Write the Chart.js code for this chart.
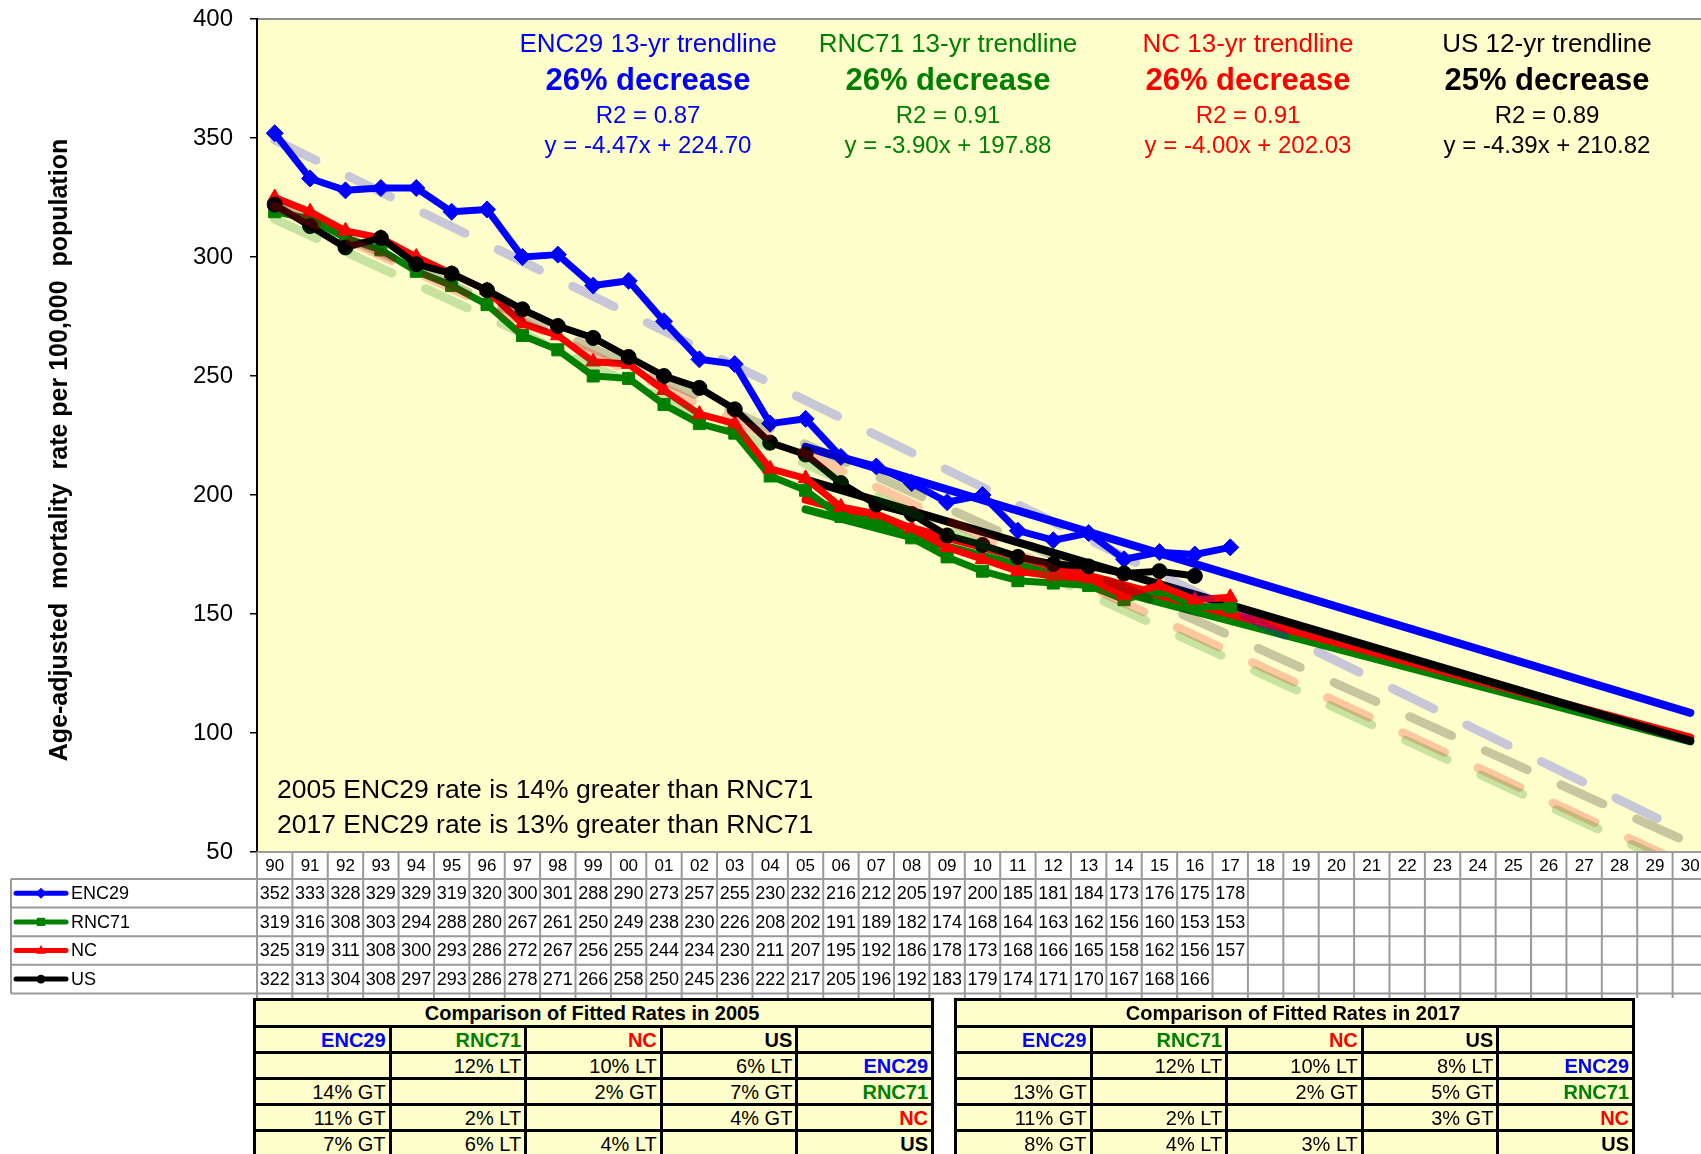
<!DOCTYPE html>
<html>
<head>
<meta charset="utf-8">
<script src="https://cdn.jsdelivr.net/npm/chart.js@4.4.1/dist/chart.umd.min.js"></script>
<style>
  html, body { margin: 0; padding: 0; background: #fff; overflow: hidden; }
  #wrap { position: relative; width: 1701px; height: 1154px; overflow: hidden; }
  #c { position: absolute; left: 0; top: 0; }
  table.cmp { position: absolute; top: 998px; border-collapse: collapse; background: #ffffcc;
    font-family: "Liberation Sans", Arial, sans-serif; font-size: 20px; table-layout: fixed; width: 678px; }
  table.cmp td { border: 3px solid #000; height: 23px; padding: 0 3px 0 0; text-align: right;
    line-height: 22px; white-space: nowrap; overflow: hidden; }
  table.cmp td.ttl { text-align: center; font-weight: bold; height: 24px; }
  table.cmp td.b { font-weight: bold; }
</style>
</head>
<body>
<div id="wrap">
  <canvas id="c" width="1710" height="1154"></canvas>
</div>
<script>
// Year columns (1990 through 2030 projection)
const years = ['90','91','92','93','94','95','96','97','98','99','00','01','02','03','04','05','06','07','08','09',
               '10','11','12','13','14','15','16','17','18','19','20','21','22','23','24','25','26','27','28','29','30'];

// Age-adjusted mortality rates per 100,000
const enc29 = [352,333,328,329,329,319,320,300,301,288,290,273,257,255,230,232,216,212,205,197,200,185,181,184,173,176,175,178];
const rnc71 = [319,316,308,303,294,288,280,267,261,250,249,238,230,226,208,202,191,189,182,174,168,164,163,162,156,160,153,153];
const nc    = [325,319,311,308,300,293,286,272,267,256,255,244,234,230,211,207,195,192,186,178,173,168,166,165,158,162,156,157];
const us    = [322,313,304,308,297,293,286,278,271,266,258,250,245,236,222,217,205,196,192,183,179,174,171,170,167,168,166];

const seriesNames  = ['ENC29', 'RNC71', 'NC', 'US'];
const seriesColors = ['#0000ff', '#008000', '#ff0000', '#000000'];
const seriesTints  = ['rgba(0,0,255,0.22)', 'rgba(0,128,0,0.22)', 'rgba(255,0,0,0.22)', 'rgba(0,0,0,0.22)'];
const markerStyles = ['rectRot', 'rect', 'triangle', 'circle'];

// Fitted trendlines since 2005 (x = 1 in 2005, x = 26 in 2030)
const fitYears     = [13, 13, 13, 12];
const fitDecrease  = [26, 26, 26, 25];
const fitR2        = [0.87, 0.91, 0.91, 0.89];
const fitSlope     = [-4.47, -3.90, -4.00, -4.39];
const fitIntercept = [224.70, 197.88, 202.03, 210.82];
const fitLabels    = ['05', '30'];
const fitX         = [1, 26];

// Whole-period linear trends, 1990 value and 2030 projection
const longTrendLabels = ['90', '30'];
const longTrendStart  = [349.2, 315.9, 321.4, 321.9];
const longTrendEnd    = [57.3, 41.8, 43.7, 53.7];

const notes = ['2005 ENC29 rate is 14% greater than RNC71', '2017 ENC29 rate is 13% greater than RNC71'];
const yTitle = 'Age-adjusted  mortality  rate per 100,000  population';

// Pairwise comparison of fitted rates (row series vs column series)
const cmpYears = [2005, 2017];
const cmp2005 = [
  ['', '12% LT', '10% LT', '6% LT'],
  ['14% GT', '', '2% GT', '7% GT'],
  ['11% GT', '2% LT', '', '4% GT'],
  ['7% GT', '6% LT', '4% LT', '']
];
const cmp2017 = [
  ['', '12% LT', '10% LT', '8% LT'],
  ['13% GT', '', '2% GT', '5% GT'],
  ['11% GT', '2% LT', '', '3% GT'],
  ['8% GT', '4% LT', '3% LT', '']
];

const FONT = '"Liberation Sans", Arial, sans-serif';

// ---- datasets ----
const datasets = [];
const actual = [enc29, rnc71, nc, us];
const markerRadius = [8.5, 8.5, 8.5, 7.5];
const actualOrder = [4, 3, 2, 1];
actual.forEach((vals, i) => {
  datasets.push({
    label: seriesNames[i], data: vals,
    borderColor: seriesColors[i], backgroundColor: seriesColors[i],
    borderWidth: 7, borderJoinStyle: 'round',
    pointStyle: markerStyles[i], pointRadius: markerRadius[i],
    pointBorderWidth: 1, pointBorderColor: seriesColors[i], pointBackgroundColor: seriesColors[i],
    order: actualOrder[i]
  });
});
const fitOrder = [8, 7, 6, 5];
fitSlope.forEach((m, i) => {
  datasets.push({
    label: seriesNames[i] + ' fit',
    data: fitLabels.map((lab, k) => ({ x: lab, y: m * fitX[k] + fitIntercept[i] })),
    borderColor: seriesColors[i], borderWidth: 8, borderCapStyle: 'round',
    pointRadius: 0, order: fitOrder[i]
  });
});
longTrendStart.forEach((v, i) => {
  datasets.push({
    label: seriesNames[i] + ' trend',
    data: [{ x: longTrendLabels[0], y: v }, { x: longTrendLabels[1], y: longTrendEnd[i] }],
    borderColor: seriesTints[i], borderWidth: 9, borderCapStyle: 'round',
    borderDash: [46, 37], pointRadius: 0, order: 0, clip: 0
  });
});

// ---- plugins ----
const plotBackground = {
  id: 'plotBackground',
  beforeDraw(chart) {
    const { ctx, chartArea: a } = chart;
    ctx.save();
    ctx.fillStyle = '#ffffcc';
    ctx.fillRect(a.left, a.top, a.right - a.left, a.bottom - a.top);
    ctx.strokeStyle = '#909090';
    ctx.lineWidth = 2;
    ctx.beginPath();
    ctx.moveTo(a.left, a.top);
    ctx.lineTo(a.right, a.top);
    ctx.stroke();
    ctx.restore();
  }
};

const axisTitle = {
  id: 'axisTitle',
  afterDraw(chart) {
    const ctx = chart.ctx;
    ctx.save();
    ctx.translate(60, 450);
    ctx.rotate(-Math.PI / 2);
    ctx.textAlign = 'center';
    ctx.textBaseline = 'middle';
    ctx.fillStyle = '#000';
    ctx.font = 'bold 25px ' + FONT;
    ctx.fillText(yTitle, 0, 0);
    ctx.restore();
  }
};

const trendText = {
  id: 'trendText',
  afterDatasetsDraw(chart) {
    const ctx = chart.ctx;
    const centers = [648, 948, 1248, 1547];
    ctx.save();
    ctx.textAlign = 'center';
    ctx.textBaseline = 'middle';
    seriesNames.forEach((name, i) => {
      const x = centers[i];
      ctx.fillStyle = seriesColors[i];
      ctx.font = '26px ' + FONT;
      ctx.fillText(name + ' ' + fitYears[i] + '-yr trendline', x, 45);
      ctx.font = 'bold 31px ' + FONT;
      ctx.fillText(fitDecrease[i] + '% decrease', x, 81);
      ctx.font = '24px ' + FONT;
      ctx.fillText('R2 = ' + fitR2[i].toFixed(2), x, 116);
      ctx.fillText('y = ' + fitSlope[i].toFixed(2) + 'x + ' + fitIntercept[i].toFixed(2), x, 146);
    });
    ctx.textAlign = 'left';
    ctx.fillStyle = '#000';
    ctx.font = '26.5px ' + FONT;
    notes.forEach((t, k) => ctx.fillText(t, 277, 791 + k * 35));
    ctx.restore();
  }
};

function drawMarker(ctx, style, x, y, r) {
  ctx.beginPath();
  if (style === 'rectRot') {
    ctx.moveTo(x, y - r); ctx.lineTo(x + r, y); ctx.lineTo(x, y + r); ctx.lineTo(x - r, y);
  } else if (style === 'rect') {
    ctx.rect(x - r * 0.75, y - r * 0.75, r * 1.5, r * 1.5);
  } else if (style === 'triangle') {
    ctx.moveTo(x, y - r); ctx.lineTo(x + r * 0.9, y + r * 0.6); ctx.lineTo(x - r * 0.9, y + r * 0.6);
  } else {
    ctx.arc(x, y, r * 0.8, 0, Math.PI * 2);
  }
  ctx.closePath();
  ctx.fill();
}

const dataTable = {
  id: 'dataTable',
  afterDraw(chart) {
    const ctx = chart.ctx;
    const xs = chart.scales.x;
    const labels = chart.data.labels;
    const n = labels.length;
    const colW = (xs.right - xs.left) / n;
    const headTop = chart.chartArea.bottom, headBot = headTop + 27, rowH = 28.6;
    const legLeft = 11, gridBottom = 998;
    const rowsBottom = headBot + rowH * actual.length;
    ctx.save();
    ctx.fillStyle = '#fff';
    ctx.fillRect(xs.left, headTop + 1, chart.width - xs.left, gridBottom - headTop - 1);
    ctx.fillRect(0, headBot, xs.left, gridBottom - headBot);
    ctx.strokeStyle = '#9a9a9a';
    ctx.lineWidth = 2;
    ctx.beginPath();
    ctx.moveTo(xs.left, headTop); ctx.lineTo(xs.right, headTop);
    for (let k = 0; k <= actual.length; k++) {
      const y = headBot + k * rowH;
      ctx.moveTo(legLeft, y); ctx.lineTo(xs.right, y);
    }
    for (let i = 0; i <= n; i++) {
      const x = xs.left + i * colW;
      ctx.moveTo(x, headTop); ctx.lineTo(x, gridBottom);
    }
    ctx.moveTo(legLeft, headBot); ctx.lineTo(legLeft, rowsBottom);
    ctx.stroke();

    ctx.fillStyle = '#000';
    ctx.textAlign = 'center';
    ctx.textBaseline = 'middle';
    ctx.font = '17px ' + FONT;
    labels.forEach((lab, i) => ctx.fillText(lab, xs.getPixelForValue(i), (headTop + headBot) / 2 + 1));
    ctx.font = '18px ' + FONT;
    actual.forEach((vals, r) => {
      const y = headBot + (r + 0.5) * rowH + 1;
      vals.forEach((v, i) => ctx.fillText(String(v), xs.getPixelForValue(i), y));
    });

    // legend keys in the left column
    actual.forEach((vals, r) => {
      const y = headBot + (r + 0.5) * rowH;
      ctx.strokeStyle = seriesColors[r];
      ctx.lineWidth = 5;
      ctx.lineCap = 'round';
      ctx.beginPath(); ctx.moveTo(16, y); ctx.lineTo(66, y); ctx.stroke();
      ctx.fillStyle = seriesColors[r];
      drawMarker(ctx, markerStyles[r], 41, y, 5.5);
      ctx.fillStyle = '#000';
      ctx.textAlign = 'left';
      ctx.font = '18px ' + FONT;
      ctx.fillText(seriesNames[r], 71, y + 1);
    });
    ctx.restore();
  }
};

new Chart(document.getElementById('c'), {
  type: 'line',
  data: { labels: years, datasets },
  options: {
    responsive: false,
    animation: false,
    events: [],
    layout: { autoPadding: false, padding: { top: 19, right: 2, bottom: 302, left: 0 } },
    plugins: { legend: { display: false }, tooltip: { enabled: false }, title: { display: false } },
    scales: {
      x: { type: 'category', display: false, offset: true },
      y: {
        min: 50, max: 400,
        ticks: { stepSize: 50, color: '#000', padding: 17, font: { family: FONT, size: 24 } },
        grid: { drawOnChartArea: false, drawTicks: true, tickLength: 7, color: '#000', lineWidth: 1.5 },
        border: { display: true, color: '#000', width: 2 },
        afterFit(scale) { scale.width = 257; scale.paddingTop = 0; scale.paddingBottom = 0; }
      }
    }
  },
  plugins: [plotBackground, trendText, dataTable, axisTitle]
});

// ---- comparison tables ----
function buildTable(year, rows, left) {
  const t = document.createElement('table');
  t.className = 'cmp';
  t.style.left = left + 'px';
  let html = '<colgroup>' + '<col style="width:135.6px">'.repeat(5) + '</colgroup>';
  html += '<tr><td class="ttl" colspan="5">Comparison of Fitted Rates in ' + year + '</td></tr>';
  html += '<tr>' + seriesNames.map((s, i) => '<td class="b" style="color:' + seriesColors[i] + '">' + s + '</td>').join('') + '<td></td></tr>';
  rows.forEach((r, k) => {
    html += '<tr>' + r.map(c => '<td>' + c + '</td>').join('') +
            '<td class="b" style="color:' + seriesColors[k] + '">' + seriesNames[k] + '</td></tr>';
  });
  t.innerHTML = html;
  document.getElementById('wrap').appendChild(t);
}
buildTable(cmpYears[0], cmp2005, 253);
buildTable(cmpYears[1], cmp2017, 954);
</script>
</body>
</html>
